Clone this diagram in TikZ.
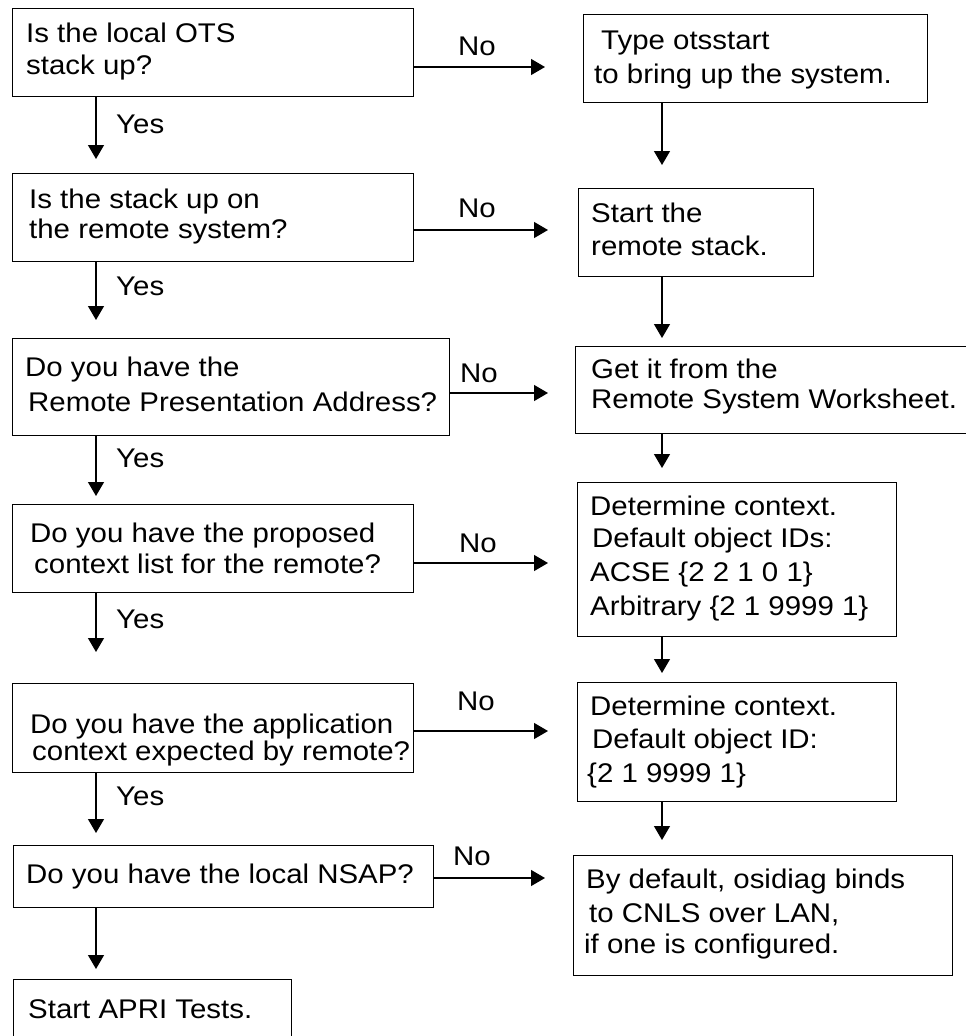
\documentclass[tikz,border=0pt]{standalone}
\usepackage{fontspec}
\setmainfont{Liberation Sans}[FakeStretch=1.09]
\usetikzlibrary{arrows.meta}
\newcommand{\chartfont}{\fontsize{27}{33}\selectfont}
\tikzset{
  box/.style={draw=black, line width=1.4pt, rectangle, inner sep=0pt, anchor=north west},
  % multi-line texts are anchored at the baseline of their last line
  txt/.style={anchor=base west, align=left, inner sep=0pt, font=\chartfont},
  arr/.style={draw=black, line width=1.3pt, -{Triangle[length=14pt,width=16pt]}},
}
\begin{document}
\begin{tikzpicture}[x=1pt, y=-1pt]
\useasboundingbox (0,0) rectangle (966,1036);
\fill[white] (0,0) rectangle (966,1036);

% column guides for the vertical connectors
\coordinate (lx) at (96,0);
\coordinate (rx) at (662,0);

% question boxes (left column)
\node[box, minimum width=401pt, minimum height=88pt] (q1) at (12,8) {};
\node[box, minimum width=401pt, minimum height=88pt] (q2) at (12,173) {};
\node[box, minimum width=437pt, minimum height=97pt] (q3) at (12,338) {};
\node[box, minimum width=401pt, minimum height=88pt] (q4) at (12,504) {};
\node[box, minimum width=401pt, minimum height=89pt] (q5) at (12,683) {};
\node[box, minimum width=420pt, minimum height=62pt] (q6) at (13,845) {};
\node[box, minimum width=278pt, minimum height=70pt] (q7) at (13,979) {};

% action boxes (right column)
\node[box, minimum width=344pt, minimum height=88pt] (a1) at (583,14) {};
\node[box, minimum width=235pt, minimum height=88pt] (a2) at (578,188) {};
\node[box, minimum width=410pt, minimum height=87pt] (a3) at (575,346) {};
\node[box, minimum width=319pt, minimum height=154pt] (a4) at (577,482) {};
\node[box, minimum width=319pt, minimum height=119pt] (a5) at (577,682) {};
\node[box, minimum width=379pt, minimum height=120pt] (a6) at (573,855) {};

% box texts
\node[txt] (q1t) at (26,74) {Is the local OTS\\[-1pt]stack up?};
\node[txt] (q2t) at (29,238) {Is the stack up on\\[-3pt]the remote system?};
\node[txt] (q3t) at (25,411) {Do you have the\\[2pt]\hspace*{3pt}Remote Presentation Address?};
\node[txt] (q4t) at (30,573) {Do you have the proposed\\[-2pt]\hspace*{4pt}context list for the remote?};
\node[txt] (q5t) at (30,760) {Do you have the application\\[-6pt]\hspace*{2pt}context expected by remote?};
\node[txt] (q6t) at (26,883) {Do you have the local NSAP?};
\node[txt] (q7t) at (28,1018) {Start APRI Tests.};

\node[txt] (a1t) at (594,83) {\hspace*{7pt}Type otsstart\\[1pt]to bring up the system.};
\node[txt] (a2t) at (591,255) {Start the\\remote stack.};
\node[txt] (a3t) at (591,408) {Get it from the\\[-3pt]Remote System Worksheet.};
\node[txt] (a4t) at (590,615) {Determine context.\\[-1pt]\hspace*{2pt}Default object IDs:\\[1pt]ACSE \{2 2 1 0 1\}\\[1pt]Arbitrary \{2 1 9999 1\}};
\node[txt] (a5t) at (587,782) {\hspace*{3pt}Determine context.\\\hspace*{5pt}Default object ID:\\[1pt]\{2 1 9999 1\}};
\node[txt] (a6t) at (584,953) {\hspace*{2pt}By default, osidiag binds\\[1pt]\hspace*{5pt}to CNLS over LAN,\\[-2pt]if one is configured.};

% "Yes" connectors down the left column
\draw[arr, shorten >=14pt] (q1.south -| lx) -- (q2.north -| lx);
\draw[arr, shorten >=18pt] (q2.south -| lx) -- (q3.north -| lx);
\draw[arr, shorten >=8pt]  (q3.south -| lx) -- (q4.north -| lx);
\draw[arr, shorten >=31pt] (q4.south -| lx) -- (q5.north -| lx);
\draw[arr, shorten >=12pt] (q5.south -| lx) -- (q6.north -| lx);
\draw[arr, shorten >=10pt] (q6.south -| lx) -- (q7.north -| lx);

\node[txt] (y1) at (116,133) {Yes};
\node[txt] (y2) at (116,295) {Yes};
\node[txt] (y3) at (116,467) {Yes};
\node[txt] (y4) at (116,628) {Yes};
\node[txt] (y5) at (116,805) {Yes};

% "No" connectors to the right column
\draw[arr, shorten >=38pt] (q1.east |- 0,67)  -- (a1.west |- 0,67);
\draw[arr, shorten >=30pt] (q2.east |- 0,230) -- (a2.west |- 0,230);
\draw[arr, shorten >=27pt] (q3.east |- 0,393) -- (a3.west |- 0,393);
\draw[arr, shorten >=29pt] (q4.east |- 0,563) -- (a4.west |- 0,563);
\draw[arr, shorten >=29pt] (q5.east |- 0,731) -- (a5.west |- 0,731);
\draw[arr, shorten >=28pt] (q6.east |- 0,878) -- (a6.west |- 0,878);

\node[txt] (n1) at (458,55) {No};
\node[txt] (n2) at (458,217) {No};
\node[txt] (n3) at (460,382) {No};
\node[txt] (n4) at (459,552) {No};
\node[txt] (n5) at (457,710) {No};
\node[txt] (n6) at (453,865) {No};

% connectors down the right column
\draw[arr, shorten >=23pt] (a1.south -| rx) -- (a2.north -| rx);
\draw[arr, shorten >=8pt]  (a2.south -| rx) -- (a3.north -| rx);
\draw[arr, shorten >=14pt] (a3.south -| rx) -- (a4.north -| rx);
\draw[arr, shorten >=9pt]  (a4.south -| rx) -- (a5.north -| rx);
\draw[arr, shorten >=15pt] (a5.south -| rx) -- (a6.north -| rx);
\end{tikzpicture}
\end{document}
